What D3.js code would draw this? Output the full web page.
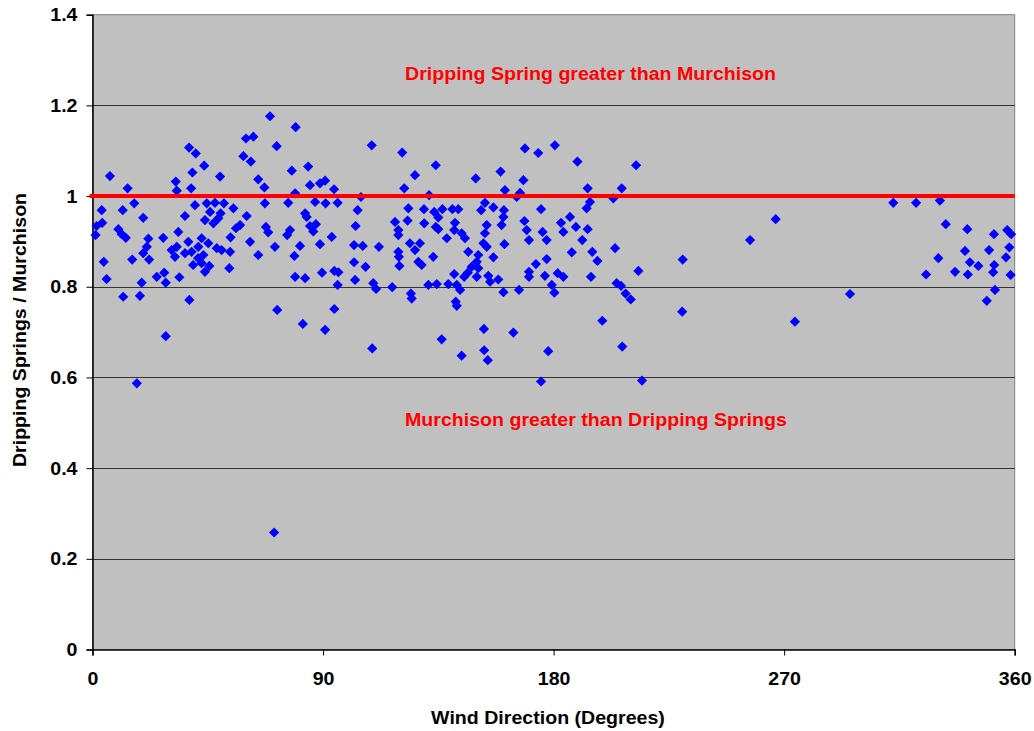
<!DOCTYPE html>
<html>
<head>
<meta charset="utf-8">
<script src="https://cdn.jsdelivr.net/npm/d3@7"></script>
<style>
  html, body { margin: 0; padding: 0; background: #fff; }
  svg text { font-family: "Liberation Sans", Arial, sans-serif; font-weight: bold; }
</style>
</head>
<body>
<svg id="chart" width="1034" height="731"></svg>
<script>
// Wind direction (degrees) of each observation
const windDirection = [
  1.2, 1.6, 3.6, 3.8, 4.4, 5.5, 6.8, 10.1, 11.4, 11.8, 13.0, 13.7, 16.3, 19.8, 15.5, 12.0, 18.5, 19.2, 17.3, 21.8,
  21.2, 19.8, 22.1, 25.1, 27.6, 28.0, 28.6, 28.6, 30.9, 32.2, 32.9, 33.5, 33.9, 32.5, 32.9, 36.1, 37.7, 40.3, 39.0, 38.5,
  40.0, 37.8, 37.4, 38.7, 41.3, 39.3, 41.2, 36.1, 43.6, 44.6, 47.8, 51.3, 55.0, 45.9, 50.0, 43.9, 47.2, 49.1, 60.2, 57.6,
  56.0, 67.7, 68.6, 77.1, 76.0, 83.0, 83.6, 84.9, 87.2, 86.2, 88.8, 53.9, 61.5, 71.2, 81.0, 78.8, 42.6, 45.2, 48.5, 50.4,
  53.7, 64.7, 43.3, 42.6, 45.6, 43.9, 53.4, 79.1, 83.0, 89.6, 72.1, 82.1, 69.3, 79.3, 59.9, 62.8, 71.9, 58.9, 61.8, 49.8,
  77.8, 84.2, 64.7, 67.1, 79.1, 76.4, 67.3, 84.9, 88.8, 90.8, 86.9, 109.0, 120.9, 125.9, 94.3, 104.8, 121.7, 91.0, 95.7, 103.5,
  123.3, 123.0, 118.1, 119.4, 119.4, 102.7, 93.4, 102.1, 105.5, 111.8, 123.9, 119.4, 119.6, 119.8, 102.1, 106.6, 94.4, 96.0, 95.7, 102.5,
  109.6, 110.7, 117.0, 124.3, 124.6, 94.4, 90.8, 109.2, 134.0, 149.6, 159.3, 161.0, 131.4, 129.4, 133.4, 136.6, 140.5, 142.8, 151.7, 153.2,
  156.5, 160.6, 129.5, 135.0, 134.0, 135.0, 141.5, 141.2, 144.1, 153.9, 159.7, 160.4, 138.3, 145.4, 153.2, 152.6, 153.9, 160.8, 127.8, 125.9,
  146.7, 133.0, 156.5, 127.2, 128.5, 150.6, 150.0, 148.0, 150.6, 146.5, 141.2, 150.0, 145.1, 154.5, 155.2, 158.4, 131.1, 134.4, 138.9, 142.2,
  143.5, 160.4, 141.8, 142.2, 152.8, 164.3, 136.3, 144.1, 152.9, 154.3, 168.8, 174.0, 180.5, 189.3, 168.2, 165.6, 166.9, 193.3, 194.2, 192.9,
  175.1, 168.6, 169.5, 170.4, 175.7, 177.3, 182.9, 183.8, 186.4, 188.7, 193.3, 191.2, 187.1, 195.1, 197.1, 177.3, 173.1, 170.4, 170.4, 176.6,
  181.6, 183.8, 194.6, 179.3, 180.3, 166.5, 199.0, 177.9, 175.1, 203.3, 206.6, 212.2, 204.0, 213.1, 204.6, 206.3, 208.1, 210.1, 206.8, 214.5,
  230.4, 230.2, 256.7, 266.7, 274.2, 295.7, 312.6, 321.5, 330.8, 333.1, 341.5, 351.9, 357.1, 358.6, 340.6, 350.0, 357.9, 356.6, 330.2, 342.5,
  345.8, 352.0, 351.6, 358.4, 325.4, 336.7, 341.7, 352.3, 349.1, 70.9
];

// Dripping Springs / Murchison ratio for each observation
const ratio = [
  0.914, 0.934, 0.969, 0.941, 0.855, 0.817, 1.044, 0.927, 0.916, 0.969, 0.908, 1.017, 0.984, 0.952, 0.860, 0.778, 0.780, 0.809, 0.587, 0.906,
  0.888, 0.874, 0.860, 0.822, 0.908, 0.831, 0.809, 0.691, 0.881, 0.866, 0.888, 0.921, 0.821, 1.032, 1.012, 0.956, 1.107, 1.094, 1.052, 1.017,
  0.980, 0.771, 0.899, 0.877, 0.888, 0.848, 0.863, 0.874, 1.067, 0.984, 0.985, 0.984, 0.973, 0.965, 0.962, 0.947, 0.940, 0.951, 0.956, 0.936,
  0.929, 0.932, 0.920, 0.925, 0.914, 0.962, 0.954, 0.934, 0.938, 0.922, 0.894, 0.909, 0.899, 0.888, 0.890, 0.868, 0.907, 0.896, 0.885, 0.881,
  0.877, 0.870, 0.870, 0.852, 0.846, 0.833, 0.841, 0.822, 0.819, 0.831, 0.749, 0.718, 1.176, 1.152, 1.127, 1.131, 1.110, 1.088, 1.076, 1.043,
  1.056, 1.065, 1.037, 1.019, 1.006, 0.985, 0.984, 1.024, 1.028, 1.034, 0.987, 1.112, 1.096, 1.046, 1.015, 0.998, 1.017, 0.984, 0.985, 0.969,
  0.973, 0.946, 0.943, 0.925, 0.914, 0.934, 0.910, 0.892, 0.890, 0.888, 0.896, 0.877, 0.866, 0.846, 0.854, 0.844, 0.835, 0.832, 0.804, 0.815,
  0.808, 0.795, 0.799, 0.785, 0.774, 0.751, 0.705, 0.664, 1.068, 1.039, 1.054, 1.013, 1.002, 0.971, 0.965, 0.971, 0.971, 0.971, 0.969, 0.985,
  0.975, 0.969, 0.940, 0.953, 0.932, 0.927, 0.941, 0.925, 0.918, 0.936, 0.936, 0.954, 0.907, 0.907, 0.918, 0.896, 0.888, 0.894, 0.896, 0.881,
  0.877, 0.866, 0.865, 0.855, 0.848, 0.870, 0.855, 0.844, 0.841, 0.831, 0.828, 0.822, 0.822, 0.824, 0.811, 0.816, 0.804, 0.806, 0.806, 0.804,
  0.793, 0.788, 0.767, 0.758, 0.707, 0.699, 0.684, 0.648, 0.660, 0.638, 1.105, 1.095, 1.112, 1.076, 1.035, 0.998, 1.007, 1.017, 0.987, 0.973,
  0.971, 0.945, 0.925, 0.903, 0.921, 0.903, 0.941, 0.921, 0.954, 0.932, 0.927, 0.903, 0.876, 0.877, 0.857, 0.861, 0.850, 0.833, 0.822, 0.824,
  0.830, 0.822, 0.822, 0.804, 0.787, 0.793, 0.725, 0.658, 0.591, 0.995, 1.017, 1.068, 0.885, 0.835, 0.808, 0.802, 0.785, 0.772, 0.668, 0.593,
  0.860, 0.745, 0.903, 0.949, 0.723, 0.784, 0.985, 0.985, 0.990, 0.938, 0.927, 0.916, 0.925, 0.916, 0.879, 0.881, 0.887, 0.865, 0.863, 0.854,
  0.846, 0.848, 0.832, 0.826, 0.827, 0.833, 0.827, 0.793, 0.769, 0.258
];

const xTicks = [0, 90, 180, 270, 360];
const yTicks = [0, 0.2, 0.4, 0.6, 0.8, 1, 1.2, 1.4];
const referenceRatio = 1;
const upperNote = "Dripping Spring greater than Murchison";
const lowerNote = "Murchison greater than Dripping Springs";
const xTitle = "Wind Direction (Degrees)";
const yTitle = "Dripping Springs / Murchison";

const points = windDirection.map((d, i) => ({ dir: d, r: ratio[i] }));

const svg = d3.select("#chart");
const plot = { left: 92.5, right: 1014.7, top: 14.7, bottom: 649.5 };
const fontSize = 17.5;
const widen = 1.12; // labels are set slightly wide

const x = d3.scaleLinear().domain([0, 360]).range([plot.left, plot.right]);
const y = d3.scaleLinear().domain([0, 1.4]).range([plot.bottom, plot.top]);

// plot background
svg.append("rect")
  .attr("x", plot.left).attr("y", plot.top)
  .attr("width", plot.right - plot.left).attr("height", plot.bottom - plot.top)
  .attr("fill", "#C0C0C0")
  .attr("stroke", "#808080").attr("stroke-width", 1);

// horizontal gridlines
svg.append("g").selectAll("line")
  .data(yTicks.filter(t => t > 0 && t < 1.4))
  .join("line")
  .attr("x1", plot.left).attr("x2", plot.right)
  .attr("y1", d => Math.round(y(d)) + 0.5).attr("y2", d => Math.round(y(d)) + 0.5)
  .attr("stroke", "#333").attr("stroke-width", 1);

// y axis
const yAxis = d3.axisLeft(y).tickValues(yTicks).tickSize(6)
  .tickFormat(d => d3.format("~g")(d));
const gy = svg.append("g").attr("transform", `translate(${plot.left},0)`).call(yAxis);
gy.select(".domain").attr("stroke", "#000").attr("stroke-width", 1.5);
gy.selectAll(".tick line").attr("stroke", "#000");
gy.selectAll(".tick text")
  .attr("x", 0).attr("dy", "0.35em")
  .attr("transform", `translate(-15,0) scale(${widen},1)`)
  .attr("font-size", fontSize).attr("fill", "#000")
  .attr("font-family", "Liberation Sans, Arial, sans-serif").attr("font-weight", "bold");

// x axis
const xAxis = d3.axisBottom(x).tickValues(xTicks).tickSize(6);
const gx = svg.append("g").attr("transform", `translate(0,${plot.bottom})`).call(xAxis);
gx.select(".domain").attr("stroke", "#000").attr("stroke-width", 1.5);
gx.selectAll(".tick line").attr("stroke", "#000");
gx.selectAll(".tick text")
  .attr("y", 0).attr("dy", "0.35em")
  .attr("transform", `translate(0,29) scale(${widen},1)`)
  .attr("font-size", fontSize).attr("fill", "#000")
  .attr("font-family", "Liberation Sans, Arial, sans-serif").attr("font-weight", "bold");

// data points as diamonds
const diamond = d3.symbol().type(d3.symbolSquare).size(52);
svg.append("g").selectAll("path")
  .data(points)
  .join("path")
  .attr("d", diamond)
  .attr("transform", d => `translate(${x(d.dir)},${y(d.r)}) rotate(45)`)
  .attr("fill", "#0000FF");

// reference line at ratio = 1
svg.append("line")
  .attr("x1", plot.left - 3).attr("x2", plot.right)
  .attr("y1", y(referenceRatio)).attr("y2", y(referenceRatio))
  .attr("stroke", "#FF0000").attr("stroke-width", 4);

// free-standing labels
function label(text, tx, ty, anchor, color, rotate) {
  svg.append("text")
    .attr("transform", `translate(${tx},${ty})${rotate ? " rotate(-90)" : ""} scale(${widen},1)`)
    .attr("text-anchor", anchor)
    .attr("font-size", fontSize)
    .attr("fill", color)
    .text(text);
}

label(upperNote, 405, 80, "start", "#FF0000");
label(lowerNote, 405, 426, "start", "#FF0000");
label(xTitle, 548, 724, "middle", "#000");
label(yTitle, 26, 330, "middle", "#000", true);
</script>
</body>
</html>
